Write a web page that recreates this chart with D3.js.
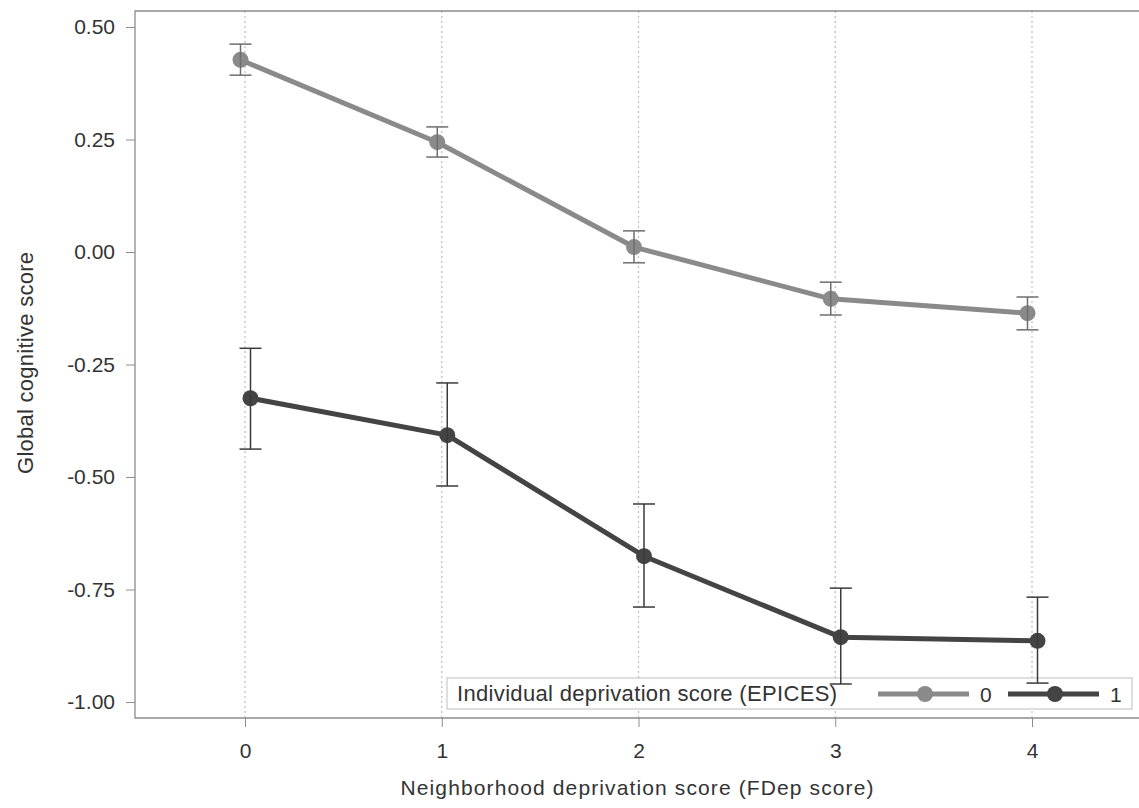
<!DOCTYPE html>
<html><head><meta charset="utf-8">
<script src="https://cdn.jsdelivr.net/npm/d3@7"></script>
<style>body{margin:0;background:#fff}svg{display:block}text{font-family:"Liberation Sans",Arial,sans-serif;fill:#333}</style>
</head><body>
<script>
const categories = [0, 1, 2, 3, 4];
const yTicks = [0.5, 0.25, 0, -0.25, -0.5, -0.75, -1.0];
const series0 = [0.427, 0.244, 0.011, -0.104, -0.136];
const series0Lo = [0.393, 0.211, -0.024, -0.140, -0.173];
const series0Hi = [0.462, 0.278, 0.047, -0.067, -0.100];
const series1 = [-0.325, -0.407, -0.676, -0.856, -0.864];
const series1Lo = [-0.438, -0.520, -0.789, -0.960, -0.958];
const series1Hi = [-0.214, -0.291, -0.560, -0.747, -0.767];
const seriesNames = ["0", "1"];
const legendTitle = "Individual deprivation score (EPICES)";
const xTitle = "Neighborhood deprivation score (FDep score)";
const yTitle = "Global cognitive score";

const W = 1139, H = 808;
const L = 135, T = 11, R = 1145, B = 718;
const FONT = "Liberation Sans, Arial, sans-serif";
const svg = d3.select("body").append("svg").attr("width", W).attr("height", H);

const x = d3.scaleLinear().domain([0, 4]).range([245, 1032]);
const y = d3.scaleLinear().domain([-1.0356, 0.5356]).range([B, T]);

// gridlines
svg.append("g").selectAll("line").data(categories).join("line")
  .attr("x1", d => x(d)).attr("x2", d => x(d)).attr("y1", T).attr("y2", B)
  .attr("stroke", "#bdbdbd").attr("stroke-width", 1.2).attr("stroke-dasharray", "2,3");

// frame
svg.append("path").attr("d", `M${R},${T}H${L}V${B}H${R}`).attr("fill", "none")
  .attr("stroke", "#8c8c8c").attr("stroke-width", 1.3);

// axes
const yAxis = svg.append("g").attr("transform", `translate(${L},0)`)
  .call(d3.axisLeft(y).tickValues(yTicks).tickFormat(d => d.toFixed(2)).tickSize(9).tickPadding(11));
yAxis.select(".domain").remove();
yAxis.selectAll("line").attr("stroke", "#8c8c8c");
yAxis.selectAll("text").attr("font-size", 21).attr("fill", "#333").style("font-family", FONT);

const xAxis = svg.append("g").attr("transform", `translate(0,${B})`)
  .call(d3.axisBottom(x).tickValues(categories).tickFormat(d3.format("d")).tickSize(9).tickPadding(17));
xAxis.select(".domain").remove();
xAxis.selectAll("line").attr("stroke", "#8c8c8c");
xAxis.selectAll("text").attr("font-size", 21).attr("fill", "#333").style("font-family", FONT)
  .attr("dy", null).attr("y", 40);

svg.append("text").attr("x", 637).attr("y", 795).attr("text-anchor", "middle").attr("font-size", 21)
  .attr("textLength", 473).attr("lengthAdjust", "spacing").text(xTitle);
svg.append("text").attr("transform", "translate(33,363) rotate(-90)").attr("text-anchor", "middle").attr("font-size", 22)
  .attr("textLength", 222).attr("lengthAdjust", "spacing").text(yTitle);

// legend box
const lg = svg.append("g");
lg.append("rect").attr("x", 447).attr("y", 678).attr("width", 685).attr("height", 31)
  .attr("fill", "#fff").attr("stroke", "#c8c8c8").attr("stroke-width", 1.2);
lg.append("text").attr("x", 457).attr("y", 701).attr("font-size", 22)
  .attr("textLength", 380).attr("lengthAdjust", "spacing").text(legendTitle);

const defs = [
  {vals: series0, lo: series0Lo, hi: series0Hi, color: "#8a8a8a", err: "#6e6e6e", off: -4.5, lx: 878, name: seriesNames[0]},
  {vals: series1, lo: series1Lo, hi: series1Hi, color: "#444444", err: "#3a3a3a", off: 5.5, lx: 1008, name: seriesNames[1]}
];

defs.forEach(s => {
  const g = svg.append("g");
  g.append("path").datum(categories)
    .attr("d", d3.line().x(d => x(d) + s.off).y((d, i) => y(s.vals[i])))
    .attr("fill", "none").attr("stroke", s.color).attr("stroke-width", 5).attr("stroke-linejoin", "round");
  g.selectAll("circle").data(categories).join("circle")
    .attr("cx", d => x(d) + s.off).attr("cy", (d, i) => y(s.vals[i])).attr("r", 8).attr("fill", s.color);
});

defs.forEach(s => {
  const g = svg.append("g").attr("stroke", s.err).attr("stroke-width", 1.5);
  categories.forEach((d, i) => {
    const cx = x(d) + s.off;
    g.append("line").attr("x1", cx).attr("x2", cx).attr("y1", y(s.lo[i])).attr("y2", y(s.hi[i]));
    g.append("line").attr("x1", cx - 11).attr("x2", cx + 11).attr("y1", y(s.lo[i])).attr("y2", y(s.lo[i]));
    g.append("line").attr("x1", cx - 11).attr("x2", cx + 11).attr("y1", y(s.hi[i])).attr("y2", y(s.hi[i]));
  });
});

// legend entries
defs.forEach(s => {
  lg.append("line").attr("x1", s.lx).attr("x2", s.lx + 91).attr("y1", 694).attr("y2", 694)
    .attr("stroke", s.color).attr("stroke-width", 5);
  lg.append("circle").attr("cx", s.lx + 47).attr("cy", 694).attr("r", 8).attr("fill", s.color);
  lg.append("text").attr("x", s.lx + 102).attr("y", 702).attr("font-size", 21).text(s.name);
});
</script>
</body></html>
